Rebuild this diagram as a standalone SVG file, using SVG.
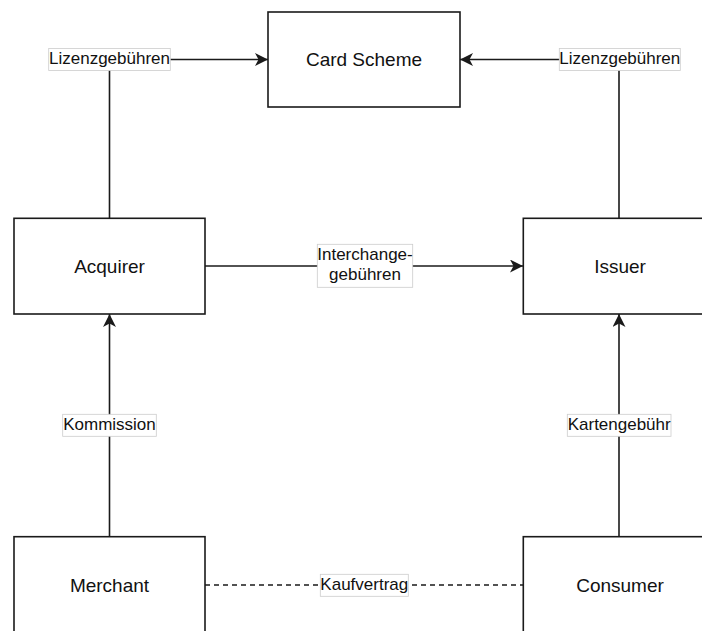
<svg xmlns="http://www.w3.org/2000/svg" width="702" height="631" viewBox="0 0 702 631">
  <style>
    .node rect { fill: #ffffff; stroke: #1a1a1a; stroke-width: 1.6; }
    .node text { font-family: "Liberation Sans", Arial, Helvetica, sans-serif; font-size: 19px; fill: #111111; text-anchor: middle; }
    .edge { fill: none; stroke: #1a1a1a; stroke-width: 1.6; }
    .dashed { stroke-dasharray: 5 4; }
    .lbl rect { fill: #ffffff; stroke: #cccccc; stroke-width: 0.8; }
    .lbl text { font-family: "Liberation Sans", Arial, Helvetica, sans-serif; font-size: 17px; fill: #111111; text-anchor: middle; }
  </style>
  <defs>
    <marker id="arrow" markerUnits="userSpaceOnUse" markerWidth="14" markerHeight="14" refX="13" refY="6.5" orient="auto">
      <path d="M0,0 L13,6.5 L0,13 L3.5,6.5 Z" fill="#1a1a1a"/>
    </marker>
  </defs>

  <rect width="702" height="631" fill="#ffffff"/>

  <!-- connectors -->
  <g id="connectors">
    <path class="edge" d="M109.5,218 V59.5 H268" marker-end="url(#arrow)"/>
    <path class="edge" d="M619,218 V59.5 H460" marker-end="url(#arrow)"/>
    <path class="edge" d="M205,266 H523" marker-end="url(#arrow)"/>
    <path class="edge" d="M109.5,537 V314" marker-end="url(#arrow)"/>
    <path class="edge" d="M619,537 V314" marker-end="url(#arrow)"/>
    <path class="edge dashed" d="M205,585 H523"/>

    <g class="lbl">
      <rect x="48.7" y="48.5" width="121.6" height="22"/>
      <text x="109.5" y="63.8">Lizenzgebühren</text>
      <rect x="559.3" y="48.5" width="121" height="22"/>
      <text x="619.8" y="63.8">Lizenzgebühren</text>
      <rect x="317.3" y="244.3" width="95.4" height="43"/>
      <text x="365" y="260">Interchange-</text>
      <text x="365" y="279.5">gebühren</text>
      <rect x="62.7" y="414.3" width="93.6" height="22"/>
      <text x="109.5" y="429.5">Kommission</text>
      <rect x="567.3" y="414.3" width="103.7" height="22"/>
      <text x="619.2" y="429.5">Kartengebühr</text>
      <rect x="320.3" y="574.3" width="88" height="22"/>
      <text x="364.3" y="589.5">Kaufvertrag</text>
    </g>
  </g>

  <!-- nodes -->
  <g id="card-scheme" class="node">
    <rect x="268" y="12" width="192" height="95"/>
    <text x="364" y="66.3">Card Scheme</text>
  </g>
  <g id="acquirer" class="node">
    <rect x="14" y="218.3" width="191" height="95.7"/>
    <text x="109.5" y="273">Acquirer</text>
  </g>
  <g id="issuer" class="node">
    <rect x="523.3" y="218.3" width="191" height="95.7"/>
    <text x="620" y="273">Issuer</text>
  </g>
  <g id="merchant" class="node">
    <rect x="14" y="536.7" width="191" height="96"/>
    <text x="109.5" y="591.5">Merchant</text>
  </g>
  <g id="consumer" class="node">
    <rect x="523.3" y="536.7" width="191" height="96"/>
    <text x="620" y="591.5">Consumer</text>
  </g>
</svg>
